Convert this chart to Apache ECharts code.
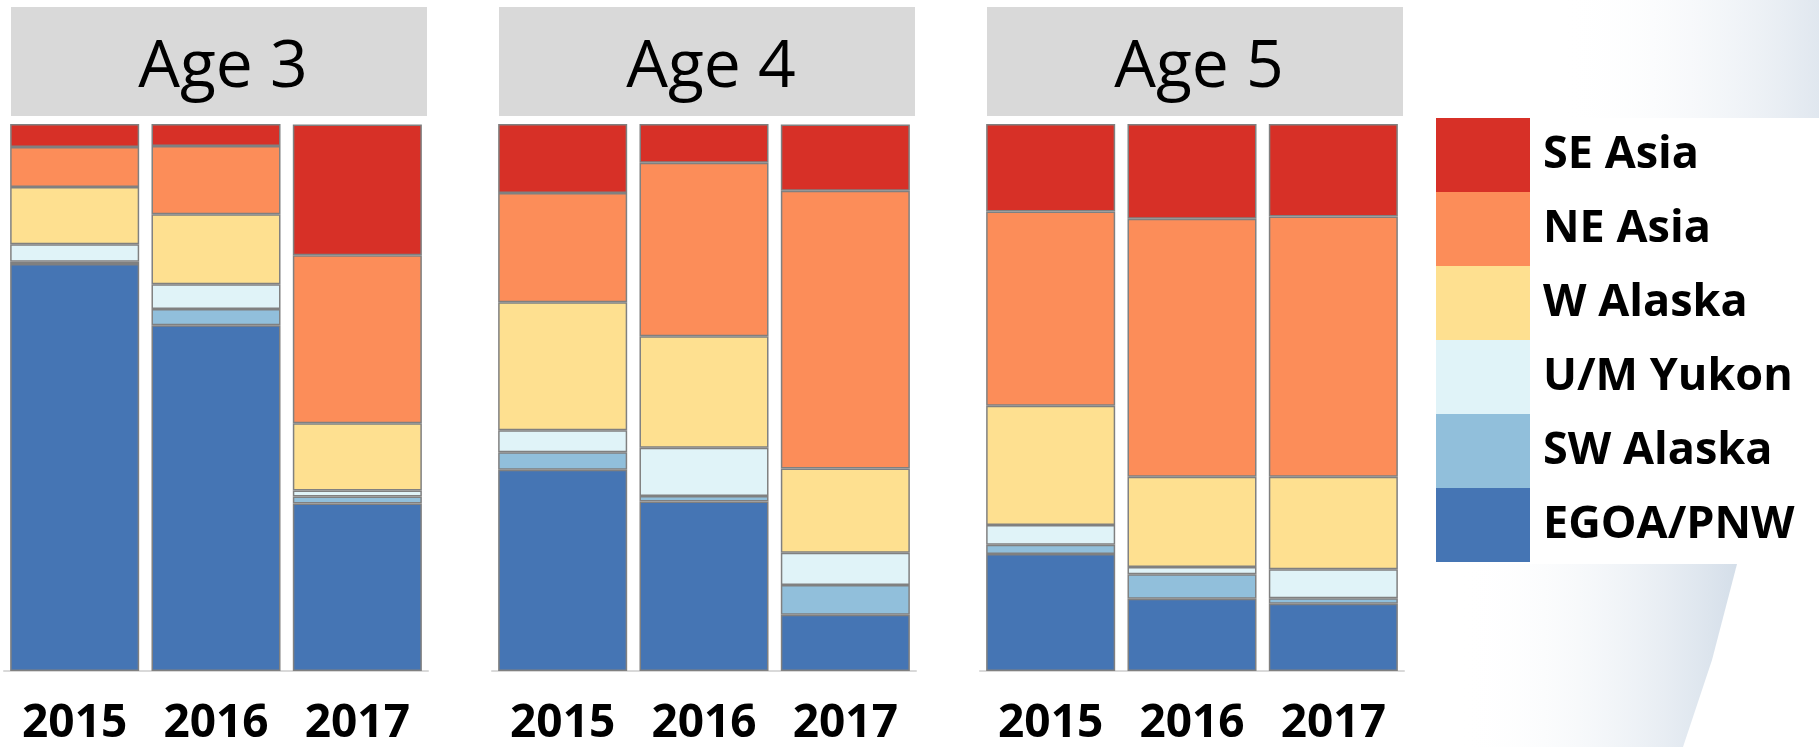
<!DOCTYPE html>
<html>
<head>
<meta charset="utf-8">
<script src="https://cdn.jsdelivr.net/npm/echarts@6/dist/echarts.min.js"></script>
<style>
  html, body { margin: 0; padding: 0; background: #fff; }
  #chart { width: 1819px; height: 747px; }
</style>
</head>
<body>
<div id="chart"></div>
<script>
const ages = ['Age 3', 'Age 4', 'Age 5']
const years = ['2015', '2016', '2017']

// stack order, bottom to top
const regions = ['EGOA/PNW', 'SW Alaska', 'U/M Yukon', 'W Alaska', 'NE Asia', 'SE Asia']

// % share; one row per age panel, years 2015..2017 across
const egoaPnw  = [[74.4, 63.2, 30.6], [36.8, 31.0, 10.3], [21.4, 13.2, 12.3]]
const swAlaska = [[0.4, 3.0, 1.3], [3.2, 1.0, 5.4], [1.7, 4.5, 1.0]]
const umYukon  = [[3.2, 4.5, 1.1], [4.0, 8.8, 5.9], [3.6, 1.3, 5.3]]
const wAlaska  = [[10.5, 12.8, 12.3], [23.4, 20.4, 15.4], [21.8, 16.5, 16.9]]
const neAsia   = [[7.3, 12.5, 30.7], [20.0, 31.7, 50.8], [35.5, 47.2, 47.6]]
const seAsia   = [[4.2, 4.0, 23.9], [12.6, 7.1, 12.1], [16.0, 17.3, 16.9]]

const regionValues = [egoaPnw, swAlaska, umYukon, wAlaska, neAsia, seAsia]
const regionColors = ['#4575b4', '#91bfdb', '#e0f3f8', '#fee090', '#fc8d59', '#d73027']

const panelLefts = [4, 492, 980]
const panelWidth = 424
const font = '"Open Sans", "Noto Sans", sans-serif'

const chart = echarts.init(document.getElementById('chart'))

const grids = []
const xAxes = []
const yAxes = []
const series = []
const graphics = [
  // slide decoration on the right
  {
    type: 'rect',
    z: -10,
    shape: { x: 1560, y: 0, width: 259, height: 118 },
    style: {
      fill: new echarts.graphic.LinearGradient(0, 0, 1, 0, [
        { offset: 0, color: 'rgba(255,255,255,0)' },
        { offset: 1, color: '#e0e7ef' }
      ])
    }
  },
  {
    type: 'polygon',
    z: -10,
    shape: { points: [[1460, 564], [1737, 564], [1712, 660], [1683, 747], [1460, 747]] },
    style: {
      fill: new echarts.graphic.LinearGradient(0, 0, 1, 0, [
        { offset: 0, color: 'rgba(255,255,255,0)' },
        { offset: 1, color: '#d4dee9' }
      ])
    }
  }
]

ages.forEach((age, a) => {
  const left = panelLefts[a]

  grids.push({ left: left, width: panelWidth, top: 124, bottom: 74 })

  xAxes.push({
    type: 'category',
    gridIndex: a,
    data: years,
    axisLine: { lineStyle: { color: '#d9d9d9', width: 2 } },
    axisTick: { show: false },
    axisLabel: {
      color: '#000',
      fontSize: 46,
      fontWeight: 'bold',
      fontFamily: font,
      margin: 30
    }
  })

  yAxes.push({ type: 'value', gridIndex: a, min: 0, max: 100, show: false })

  regions.forEach((name, r) => {
    series.push({
      name: name,
      type: 'bar',
      stack: 'age' + a,
      xAxisIndex: a,
      yAxisIndex: a,
      barCategoryGap: '8.7%',
      data: regionValues[r][a],
      itemStyle: {
        color: regionColors[r],
        borderColor: '#808080',
        borderWidth: 1.5
      }
    })
  })

  graphics.push({
    type: 'rect',
    shape: { x: left + 7, y: 7, width: 416, height: 109 },
    style: { fill: '#d9d9d9' }
  })
  graphics.push({
    type: 'text',
    x: left + 219,
    y: 68,
    style: {
      text: age,
      fill: '#000',
      font: '66px ' + font,
      align: 'center',
      verticalAlign: 'middle',
      textAlign: 'center',
      textVerticalAlign: 'middle'
    }
  })
})

chart.setOption({
  animation: false,
  backgroundColor: '#fff',
  grid: grids,
  xAxis: xAxes,
  yAxis: yAxes,
  series: series,
  graphic: graphics,
  legend: {
    orient: 'vertical',
    left: 1436,
    top: 118,
    padding: 0,
    itemGap: 0,
    itemWidth: 94,
    itemHeight: 74,
    icon: 'rect',
    selectedMode: false,
    data: regions.slice().reverse(),
    itemStyle: { borderWidth: 0 },
    textStyle: {
      color: '#000',
      fontSize: 45,
      fontWeight: 'bold',
      fontFamily: font,
      padding: [8, 0, 0, 8]
    }
  }
})
</script>
</body>
</html>
